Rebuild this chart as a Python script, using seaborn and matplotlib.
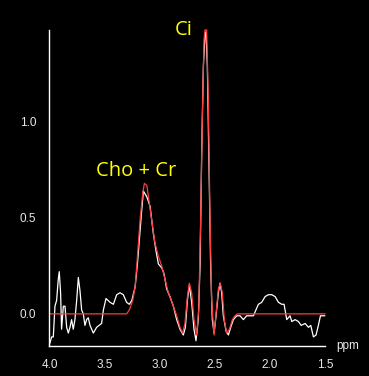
import matplotlib
matplotlib.use("Agg")
import matplotlib.pyplot as plt
import seaborn as sns
import pandas as pd

# measured spectrum (ppm, intensity)
ppm_obs = [4.00, 3.98, 3.965, 3.95, 3.935, 3.92, 3.911, 3.899, 3.89, 3.874,
           3.859, 3.844, 3.829, 3.814, 3.799, 3.784, 3.769, 3.753, 3.738, 3.723,
           3.708, 3.693, 3.678, 3.663, 3.648, 3.632, 3.602, 3.572, 3.527, 3.511,
           3.487, 3.45, 3.42, 3.39, 3.36, 3.33, 3.30, 3.276, 3.253, 3.223,
           3.202, 3.184, 3.166, 3.148, 3.117, 3.087, 3.058, 3.034, 3.012, 2.982,
           2.961, 2.937, 2.907, 2.876, 2.846, 2.816, 2.786, 2.767, 2.749, 2.731,
           2.71, 2.689, 2.671, 2.65, 2.634, 2.619, 2.604, 2.589, 2.58, 2.568,
           2.553, 2.538, 2.523, 2.507, 2.489, 2.468, 2.453, 2.438, 2.423, 2.398,
           2.377, 2.356, 2.332, 2.301, 2.271, 2.241, 2.211, 2.18, 2.15, 2.135,
           2.105, 2.075, 2.044, 2.014, 1.984, 1.953, 1.923, 1.893, 1.872, 1.848,
           1.818, 1.802, 1.772, 1.742, 1.717, 1.681, 1.651, 1.63, 1.606, 1.582,
           1.561, 1.542, 1.502]
int_obs = [-0.16, -0.12, -0.12, 0.04, 0.07, 0.18, 0.22, 0.11, -0.08, 0.04,
           0.04, -0.07, -0.10, -0.07, -0.03, -0.08, -0.03, 0.07, 0.19, 0.12,
           0.02, 0.00, -0.06, -0.03, -0.02, -0.06, -0.10, -0.07, -0.05, 0.02,
           0.08, 0.06, 0.05, 0.10, 0.11, 0.10, 0.06, 0.05, 0.07, 0.14,
           0.26, 0.39, 0.52, 0.64, 0.61, 0.56, 0.42, 0.33, 0.26, 0.24,
           0.21, 0.13, 0.09, 0.04, -0.03, -0.08, -0.11, -0.07, 0.07, 0.15,
           0.06, -0.08, -0.14, -0.03, 0.25, 0.85, 1.29, 1.46, 1.47, 1.29,
           0.77, 0.25, -0.03, -0.10, -0.01, 0.11, 0.16, 0.11, -0.01, -0.09,
           -0.11, -0.07, -0.03, -0.01, -0.01, -0.03, -0.01, -0.01, -0.01, 0.01,
           0.05, 0.06, 0.09, 0.10, 0.10, 0.09, 0.06, 0.05, 0.05, -0.03,
           -0.01, -0.04, -0.03, -0.04, -0.06, -0.05, -0.07, -0.06, -0.12, -0.11,
           -0.06, -0.01, -0.01]

# fitted curve
ppm_fit = [4.00, 3.30, 3.276, 3.245, 3.223, 3.202, 3.178, 3.154, 3.139, 3.117,
           3.097, 3.073, 3.043, 3.012, 2.982, 2.952, 2.922, 2.876, 2.846, 2.816,
           2.792, 2.771, 2.749, 2.731, 2.71, 2.689, 2.665, 2.646, 2.628, 2.613,
           2.598, 2.589, 2.574, 2.559, 2.544, 2.529, 2.507, 2.489, 2.468, 2.45,
           2.432, 2.414, 2.393, 2.368, 2.341, 2.317, 2.295, 1.50]
int_fit = [0.0, 0.0, 0.02, 0.07, 0.14, 0.30, 0.49, 0.63, 0.68, 0.67,
           0.59, 0.49, 0.37, 0.30, 0.25, 0.18, 0.11, 0.04, -0.01, -0.07,
           -0.10, -0.05, 0.09, 0.16, 0.11, -0.03, -0.11, 0.02, 0.51, 1.03,
           1.43, 1.48, 1.48, 1.11, 0.51, 0.07, -0.11, 0.00, 0.13, 0.16,
           0.11, -0.03, -0.10, -0.08, -0.03, -0.01, 0.00, 0.0]

x_ticks = [4.0, 3.5, 3.0, 2.5, 2.0, 1.5]
y_ticks = [0.0, 0.5, 1.0]
peak_labels = ["Cho + Cr", "Ci"]
peak_pos = [(3.21, 0.72), (2.78, 1.453)]

obs = pd.DataFrame({"ppm": ppm_obs, "intensity": int_obs})
fit = pd.DataFrame({"ppm": ppm_fit, "intensity": int_fit})

sns.set_style("dark", {"axes.facecolor": "black", "figure.facecolor": "black"})
plt.rcParams["font.family"] = ["Liberation Sans", "DejaVu Sans"]

fig = plt.figure(figsize=(3.69, 3.76), dpi=100)
ax = fig.add_axes([0.134, 0.080, 0.747, 0.840])

sns.lineplot(data=obs, x="ppm", y="intensity", color="white", lw=0.9,
             estimator=None, ax=ax)
sns.lineplot(data=fit, x="ppm", y="intensity", color="#ff3c3c", lw=0.9,
             estimator=None, ax=ax)
for ln in ax.lines:
    ln.set_clip_on(False)

ax.set_xlim(4.0, 1.5)
ax.set_ylim(-0.167, 1.479)
ax.set_xticks(x_ticks)
ax.set_xticklabels([f"{t:.1f}" for t in x_ticks])
ax.set_yticks(y_ticks)
ax.set_yticklabels([f"{t:.1f}" for t in y_ticks])
ax.set_xlabel("")
ax.set_ylabel("")
ax.grid(False)

for side in ["top", "right"]:
    ax.spines[side].set_visible(False)
for side in ["left", "bottom"]:
    ax.spines[side].set_visible(True)
    ax.spines[side].set_color("white")
    ax.spines[side].set_linewidth(1.0)

ax.tick_params(axis="both", colors="white", labelcolor="#e8e8e8",
               direction="out", length=6.5, width=1.0, labelsize=8.5, pad=3)

ax.text(1.083, 0.0, "ppm", transform=ax.transAxes, color="#e8e8e8",
        fontsize=8.5, ha="center", va="center")

for lab, (px, py) in zip(peak_labels, peak_pos):
    ax.text(px, py, lab, color="#ffff00", fontsize=14.5, family="Open Sans",
            ha="center", va="baseline")

fig.savefig("out.png", dpi=100, facecolor="black")
